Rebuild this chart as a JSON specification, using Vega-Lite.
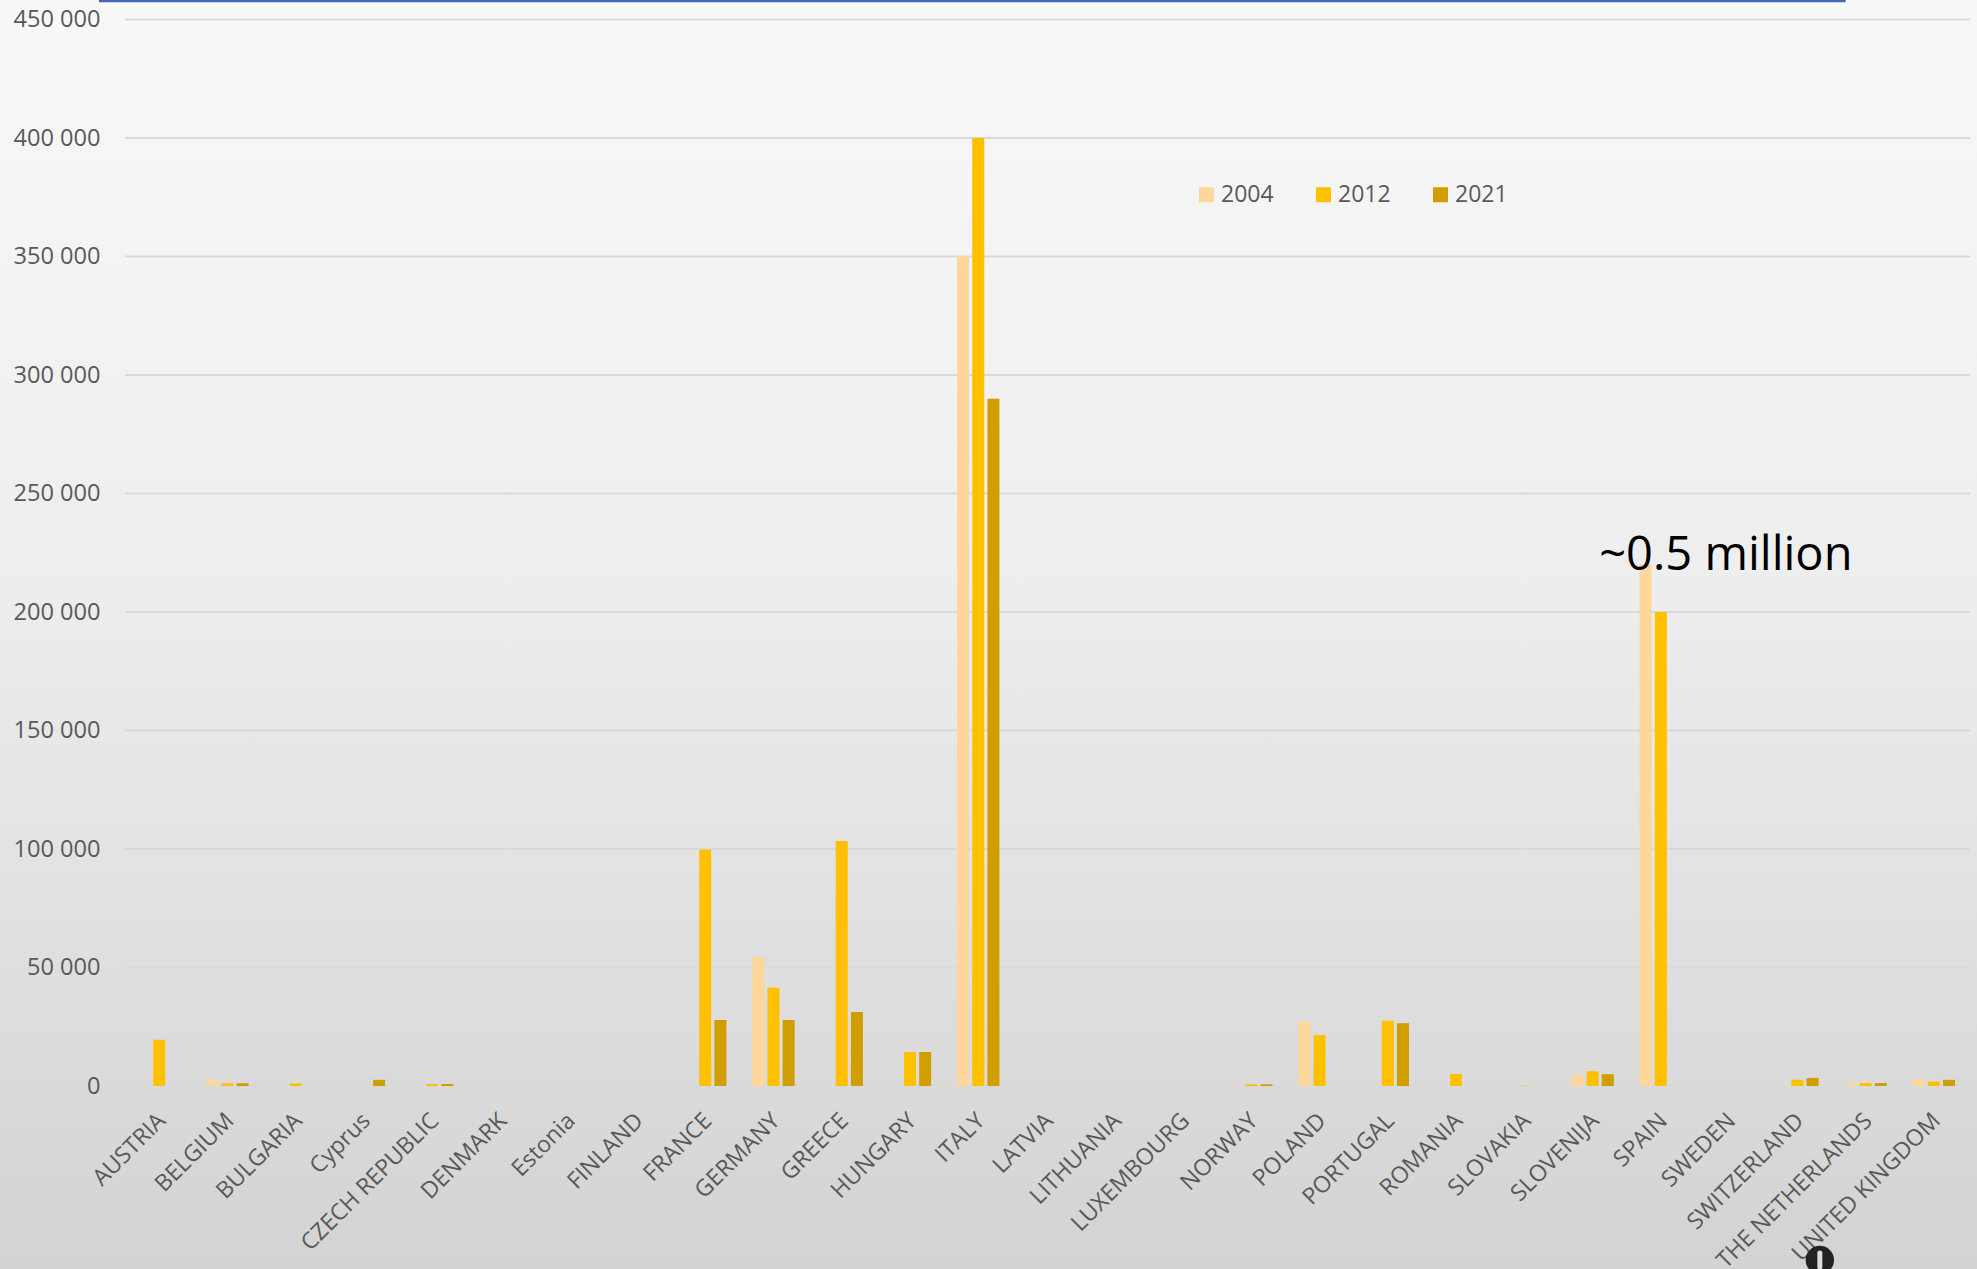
{
"$schema":"https://vega.github.io/schema/vega-lite/v6.json",
"width":1977,"height":1269,"padding":0,"autosize":{"type":"none"},
"background":"#e6e6e6",
"view":{"stroke":null,"fill":{"gradient":"linear","x1":0,"y1":0,"x2":0,"y2":1,"stops":[{"offset":0,"color":"#f8f8f8"},{"offset":0.45,"color":"#eeeeee"},{"offset":1,"color":"#d3d3d3"}]}},
"datasets":{
"bars":[
{"country":"AUSTRIA","year":"2012","value":19500},
{"country":"BELGIUM","year":"2004","value":2600},
{"country":"BELGIUM","year":"2012","value":1150},
{"country":"BELGIUM","year":"2021","value":1150},
{"country":"BULGARIA","year":"2012","value":1100},
{"country":"Cyprus","year":"2021","value":2600},
{"country":"CZECH REPUBLIC","year":"2012","value":850},
{"country":"CZECH REPUBLIC","year":"2021","value":850},
{"country":"DENMARK","year":"2021","value":50},
{"country":"FRANCE","year":"2012","value":99800},
{"country":"FRANCE","year":"2021","value":27900},
{"country":"GERMANY","year":"2004","value":54300},
{"country":"GERMANY","year":"2012","value":41450},
{"country":"GERMANY","year":"2021","value":27900},
{"country":"GREECE","year":"2012","value":103400},
{"country":"GREECE","year":"2021","value":31200},
{"country":"HUNGARY","year":"2012","value":14350},
{"country":"HUNGARY","year":"2021","value":14350},
{"country":"ITALY","year":"2004","value":350000},
{"country":"ITALY","year":"2012","value":400000},
{"country":"ITALY","year":"2021","value":290000},
{"country":"NORWAY","year":"2004","value":300},
{"country":"NORWAY","year":"2012","value":700},
{"country":"NORWAY","year":"2021","value":700},
{"country":"POLAND","year":"2004","value":27200},
{"country":"POLAND","year":"2012","value":21500},
{"country":"PORTUGAL","year":"2012","value":27500},
{"country":"PORTUGAL","year":"2021","value":26500},
{"country":"ROMANIA","year":"2012","value":5100},
{"country":"SLOVAKIA","year":"2012","value":150},
{"country":"SLOVENIJA","year":"2004","value":4500},
{"country":"SLOVENIJA","year":"2012","value":6200},
{"country":"SLOVENIJA","year":"2021","value":5000},
{"country":"SPAIN","year":"2004","value":220000},
{"country":"SPAIN","year":"2012","value":200000},
{"country":"SWITZERLAND","year":"2012","value":2600},
{"country":"SWITZERLAND","year":"2021","value":3400},
{"country":"THE NETHERLANDS","year":"2004","value":1000},
{"country":"THE NETHERLANDS","year":"2012","value":1250},
{"country":"THE NETHERLANDS","year":"2021","value":1250},
{"country":"UNITED KINGDOM","year":"2004","value":2600},
{"country":"UNITED KINGDOM","year":"2012","value":1900},
{"country":"UNITED KINGDOM","year":"2021","value":2600}
],
"grid":[{"v":0},{"v":50000},{"v":100000},{"v":150000},{"v":200000},{"v":250000},{"v":300000},{"v":350000},{"v":400000},{"v":450000}]
},
"layer":[
{"data":{"name":"grid"},"mark":{"type":"rule","color":"#d9d9d9","strokeWidth":2},
 "encoding":{"y":{"field":"v","type":"quantitative","scale":{"domain":[-77215,458228],"nice":false,"zero":false},
   "axis":{"title":null,"values":[0,50000,100000,150000,200000,250000,300000,350000,400000,450000],"grid":false,"domain":false,"ticks":false,"offset":-100,"labelPadding":0,"labelFont":"Open Sans","labelFontSize":23.6,"labelColor":"#595959","labelExpr":"replace(format(datum.value,'d'),/(\\d)(\\d{3})$/,'$1 $2')"}},
  "x":{"datum":"AUSTRIA","type":"nominal","bandPosition":-0.305,
   "scale":{"domain":["AUSTRIA","BELGIUM","BULGARIA","Cyprus","CZECH REPUBLIC","DENMARK","Estonia","FINLAND","FRANCE","GERMANY","GREECE","HUNGARY","ITALY","LATVIA","LITHUANIA","LUXEMBOURG","NORWAY","POLAND","PORTUGAL","ROMANIA","SLOVAKIA","SLOVENIJA","SPAIN","SWEDEN","SWITZERLAND","THE NETHERLANDS","UNITED KINGDOM"],"range":[125,1968],"paddingInner":0.379,"paddingOuter":0.1895},
   "axis":{"title":null,"domain":false,"ticks":false,"grid":false,"offset":-160,"labelPadding":0,"labelOffset":-5,"labelAngle":-45,"labelAlign":"right","labelBaseline":"top","labelFont":"Open Sans","labelFontSize":23,"labelColor":"#595959","labelLimit":400}},
  "x2":{"datum":"UNITED KINGDOM","bandPosition":1.35}}},
{"data":{"name":"bars"},"mark":{"type":"bar","width":12},
 "encoding":{"x":{"field":"country","type":"nominal"},
  "xOffset":{"field":"year","type":"nominal","scale":{"domain":["2004","2012","2021"],"paddingInner":0.21,"paddingOuter":0}},
  "y":{"field":"value","type":"quantitative"},
  "color":{"field":"year","type":"nominal","scale":{"domain":["2004","2012","2021"],"range":["#FFD79A","#FFC000","#D09E00"]},
   "legend":{"title":null,"orient":"none","legendX":1195,"legendY":183,"direction":"horizontal","columns":3,"symbolType":"square","symbolSize":225,"symbolStrokeWidth":0,"symbolOpacity":1,"labelFont":"Open Sans","labelFontSize":23,"labelColor":"#595959","labelOffset":3,"columnPadding":38,"padding":0}}}},
{"data":{"values":[{"note":"~0.5 million","country":"SPAIN","v":223800}]},"mark":{"type":"text","font":"Open Sans","fontSize":47,"color":"#000000","dx":65},
 "encoding":{"x":{"field":"country","type":"nominal"},"y":{"field":"v","type":"quantitative"},"text":{"field":"note"}}},
{"data":{"values":[{"v":457900}]},"mark":{"type":"rule","color":"#4466B8","strokeWidth":3},
 "encoding":{"y":{"field":"v","type":"quantitative"},"x":{"datum":"AUSTRIA","bandPosition":-0.92},"x2":{"datum":"THE NETHERLANDS","bandPosition":0.03}}},
{"data":{"values":[{"v":-73400}]},"mark":{"type":"point","filled":true,"shape":"circle","size":804,"color":"#222222","opacity":1},
 "encoding":{"y":{"field":"v","type":"quantitative"},"x":{"datum":"THE NETHERLANDS","bandPosition":-0.58}}},
{"data":{"values":[{"v":-70460,"v2":-76360}]},"mark":{"type":"rule","color":"#dddddd","strokeWidth":5,"strokeCap":"round"},
 "encoding":{"y":{"field":"v","type":"quantitative"},"y2":{"field":"v2"},"x":{"datum":"THE NETHERLANDS","bandPosition":-0.58}}}
]
}
